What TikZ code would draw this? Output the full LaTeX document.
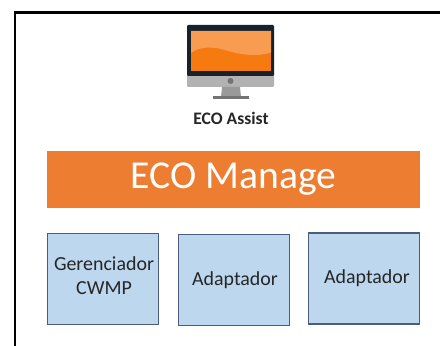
\documentclass[tikz,border=0pt]{standalone}
\usepackage{fontspec}
\setmainfont{Carlito}
\definecolor{ecoorange}{HTML}{ED7D31}
\definecolor{ecoblue}{HTML}{BDD7EE}
\definecolor{ecoborder}{HTML}{4A5D7C}
\definecolor{screendark}{HTML}{17222B}
\definecolor{screenlow}{HTML}{F57A10}
\definecolor{screenhigh}{HTML}{F79C50}
\tikzset{
  modulebox/.style={draw=ecoborder, fill=ecoblue, line width=1.6pt, minimum width=3.33cm, minimum height=2.73cm, inner sep=0pt},
  modulelabel/.style={align=center, font=\fontsize{17}{20}\selectfont, text=black!85},
  managebar/.style={fill=ecoorange, minimum width=11.19cm, minimum height=1.71cm, inner sep=0pt, text=white, font=\fontsize{33.8}{36}\selectfont}
}
\begin{document}
\begin{tikzpicture}[x=0.03cm, y=-0.03cm]
	\useasboundingbox (0,0) rectangle (440,346);

	% frame
	\draw[line width=2pt, black] (15,346) -- (15,12.5) -- (440,12.5);

	% monitor
	\fill[black!30, rounded corners=1pt] (187,70) rectangle (274,87);
	\fill[black!40] (222,87) -- (240,87) -- (241,97) -- (221,97) -- cycle;
	\fill[black!55] (213,96.5) rectangle (249,99.5);
	\fill[black!55] (230.5,81) circle (3);
	\fill[screendark, rounded corners=1pt] (187,25) rectangle (274,76);
	\fill[screenlow] (191,31) rectangle (271,71);
	\fill[screenhigh] (191,31) -- (191,53) .. controls (198,47) and (212,46) .. (225,50) .. controls (240,55) and (258,57) .. (271,52.5) -- (271,31) -- cycle;

	\node[font=\bfseries\fontsize{15}{17}\selectfont, text=black!85] (assist) at (231,118) {ECO Assist};

	\node[managebar] (manage) at (233.5,179.5) {ECO Manage};

	\node[modulebox] (cwmp) at (103,279) {};
	\node[modulelabel] (cwmptext) at (104,275.5) {Gerenciador\\CWMP};
	\node[modulebox] (adapta) at (234,280) {};
	\node[modulelabel] (adaptatext) at (235,280) {Adaptador};
	\node[modulebox] (adaptb) at (364,278.5) {};
	\node[modulelabel] (adaptbtext) at (367,278) {Adaptador};
\end{tikzpicture}
\end{document}
